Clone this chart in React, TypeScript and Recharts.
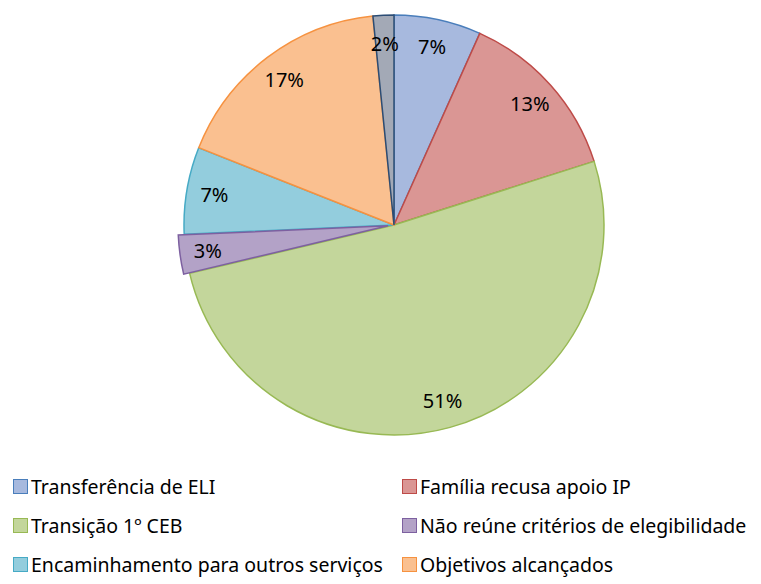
import { PieChart, Pie, Cell, Legend } from 'recharts'

// categorias (a última fatia não aparece na legenda)
const categories = [
  'Transferência de ELI',
  'Família recusa apoio IP',
  'Transição 1º CEB',
  'Não reúne critérios de elegibilidade',
  'Encaminhamento para outros serviços',
  'Objetivos alcançados',
  '',
]
const values = [6.7, 13.4, 51.2, 3.0, 6.7, 17.4, 1.6]

const fills = ['#A7B9DE', '#DA9694', '#C3D69B', '#B3A2C7', '#93CDDD', '#FAC090', '#A3A9B6']
const strokes = ['#4A7EBB', '#BE4B48', '#98B954', '#7D60A0', '#46AAC5', '#F69240', '#2C4D75']

const EXPLODED = 3 // fatia destacada
const FONT = '"Noto Sans", sans-serif'

const data = categories.map((name, i) => ({ name, value: values[i] }))

// deslocamento da fatia destacada, a partir do ângulo médio
const total = values.reduce((a, b) => a + b, 0)
const before = values.slice(0, EXPLODED).reduce((a, b) => a + b, 0)
const midDeg = ((before + values[EXPLODED] / 2) / total) * 360
const explodeDist = 6
const dx = Math.sin((midDeg * Math.PI) / 180) * explodeDist
const dy = -Math.cos((midDeg * Math.PI) / 180) * explodeDist

const CX = 394
const CY = 225
const R = 210

function makeLabel(show: (i: number) => boolean) {
  return (props: any) => {
    const { cx, cy, midAngle, outerRadius, percent, index } = props
    if (!show(index)) return null
    const r = outerRadius * 0.867
    const a = (-midAngle * Math.PI) / 180
    return (
      <text
        x={cx + r * Math.cos(a)}
        y={cy + r * Math.sin(a)}
        textAnchor="middle"
        dominantBaseline="central"
        fill="#000"
        fontSize={20}
        fontFamily={FONT}
      >
        {`${Math.round(percent * 100)}%`}
      </text>
    )
  }
}

function LegendBox() {
  return (
    <div
      style={{
        display: 'grid',
        gridTemplateColumns: '389px 372px',
        gridAutoRows: '39px',
        fontFamily: FONT,
        fontSize: 19.5,
        color: '#000',
      }}
    >
      {categories.slice(0, 6).map((c, i) => (
        <div key={c} style={{ display: 'flex', alignItems: 'center', paddingLeft: 13, whiteSpace: 'nowrap' }}>
          <span
            style={{
              width: 15,
              height: 15,
              boxSizing: 'border-box',
              background: fills[i],
              border: `1.5px solid ${strokes[i]}`,
              marginRight: 3,
              flexShrink: 0,
            }}
          />
          {c}
        </div>
      ))}
    </div>
  )
}

export default function App() {
  return (
    <div style={{ position: 'absolute', left: 0, top: 0, background: '#fff' }}>
      <PieChart width={761} height={584} margin={{ top: 0, right: 0, bottom: 0, left: 0 }}>
        <Pie
          data={data}
          dataKey="value"
          nameKey="name"
          cx={CX}
          cy={CY}
          outerRadius={R}
          startAngle={90}
          endAngle={-270}
          isAnimationActive={false}
          labelLine={false}
          label={makeLabel((i) => i !== EXPLODED)}
        >
          {data.map((d, i) => (
            <Cell
              key={i}
              fill={i === EXPLODED ? 'none' : fills[i]}
              stroke={i === EXPLODED ? 'none' : strokes[i]}
              strokeWidth={1.5}
            />
          ))}
        </Pie>
        <Pie
          data={data}
          dataKey="value"
          nameKey="name"
          cx={CX + dx}
          cy={CY + dy}
          outerRadius={R}
          startAngle={90}
          endAngle={-270}
          isAnimationActive={false}
          labelLine={false}
          label={makeLabel((i) => i === EXPLODED)}
        >
          {data.map((d, i) => (
            <Cell
              key={i}
              fill={i === EXPLODED ? fills[i] : 'none'}
              stroke={i === EXPLODED ? strokes[i] : 'none'}
              strokeWidth={1.5}
            />
          ))}
        </Pie>
        <Legend
          content={() => <LegendBox />}
          wrapperStyle={{ position: 'absolute', left: 0, top: 467, width: 761 }}
        />
      </PieChart>
    </div>
  )
}
